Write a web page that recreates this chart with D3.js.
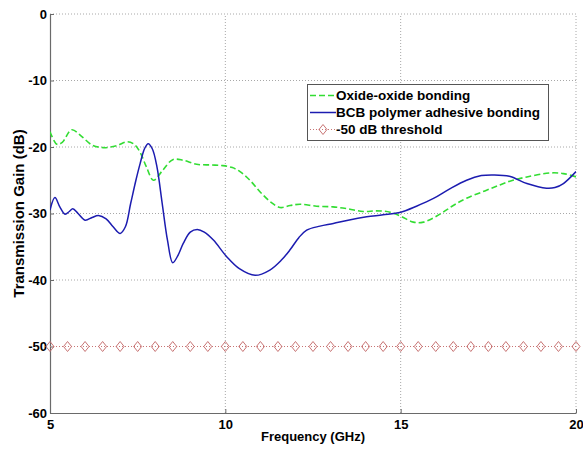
<!DOCTYPE html>
<html>
<head>
<meta charset="utf-8">
<script src="https://cdn.jsdelivr.net/npm/d3@7"></script>
<style>
  html, body { margin: 0; padding: 0; background: #fff; }
  svg { display: block; }
  svg text { font-family: "Liberation Sans", Arial, sans-serif; font-weight: bold; fill: #000; }
</style>
</head>
<body>
<svg id="chart" width="583" height="449"></svg>
<script>
// Transmission gain vs frequency for two bonding methods, with a -50 dB reference line.
const oxideFreq = [5.0, 5.2, 5.35, 5.62, 5.9, 6.2, 6.52, 6.9, 7.2, 7.4, 7.57, 7.75, 7.95, 8.2, 8.5, 8.8, 9.18, 9.6, 9.93, 10.2, 10.42, 10.7, 11.0, 11.3, 11.56, 11.85, 12.13, 12.6, 13.07, 13.5, 13.93, 14.31, 14.7, 15.0, 15.36, 15.65, 16.12, 16.5, 16.88, 17.4, 17.83, 18.2, 18.6, 19.26, 19.64, 20.0];
const oxideGain = [-17.7, -19.6, -19.3, -17.4, -18.4, -19.7, -20.1, -19.8, -19.2, -19.6, -20.8, -23.0, -25.0, -23.6, -21.9, -22.0, -22.6, -22.7, -22.8, -23.1, -23.7, -25.0, -26.8, -28.3, -29.1, -28.8, -28.6, -28.9, -29.0, -29.3, -29.7, -29.6, -29.8, -30.4, -31.3, -31.3, -30.1, -28.8, -27.7, -26.6, -25.7, -25.0, -24.5, -23.9, -24.0, -24.5];

const bcbFreq = [5.0, 5.14, 5.28, 5.43, 5.55, 5.65, 5.8, 6.0, 6.2, 6.38, 6.6, 6.8, 7.0, 7.15, 7.3, 7.45, 7.57, 7.7, 7.8, 7.92, 8.05, 8.2, 8.35, 8.5, 8.65, 8.8, 9.0, 9.2, 9.4, 9.66, 10.04, 10.4, 10.85, 11.27, 11.6, 11.84, 12.1, 12.32, 12.7, 13.08, 13.5, 14.03, 14.5, 15.0, 15.45, 15.95, 16.4, 16.88, 17.3, 17.64, 18.1, 18.6, 19.16, 19.4, 19.64, 20.0];
const bcbGain = [-29.5, -27.6, -29.0, -30.1, -29.7, -29.3, -30.0, -31.0, -30.6, -30.3, -30.8, -32.0, -33.0, -32.0, -28.5, -25.0, -22.5, -20.2, -19.5, -20.3, -23.0, -28.5, -34.0, -37.4, -36.3, -34.5, -32.8, -32.4, -32.8, -34.0, -36.5, -38.3, -39.3, -38.5, -37.0, -35.5, -33.6, -32.5, -31.9, -31.5, -31.0, -30.5, -30.2, -29.8, -28.9, -27.7, -26.3, -25.0, -24.3, -24.2, -24.4, -25.5, -26.2, -26.1, -25.5, -23.7];

const thresholdFreq = [5, 5.5, 6, 6.5, 7, 7.5, 8, 8.5, 9, 9.5, 10, 10.5, 11, 11.5, 12, 12.5, 13, 13.5, 14, 14.5, 15, 15.5, 16, 16.5, 17, 17.5, 18, 18.5, 19, 19.5, 20];
const thresholdGain = [-50, -50, -50, -50, -50, -50, -50, -50, -50, -50, -50, -50, -50, -50, -50, -50, -50, -50, -50, -50, -50, -50, -50, -50, -50, -50, -50, -50, -50, -50, -50];

const xTicks = [5, 10, 15, 20];
const yTicks = [0, -10, -20, -30, -40, -50, -60];
const legendLabels = ["Oxide-oxide bonding", "BCB polymer adhesive bonding", "-50 dB threshold"];

const W = 583, H = 449;
const margin = { top: 14, right: 7, bottom: 36, left: 50 };
const svg = d3.select("#chart");

const x = d3.scaleLinear().domain([5, 20]).range([margin.left, W - margin.right]);
const y = d3.scaleLinear().domain([-60, 0]).range([H - margin.bottom, margin.top]);

const COL_OXIDE = "#33dd33";
const COL_BCB = "#1c1cb0";
const COL_THR = "#c87474";
const AXIS = "#6a6a6a";
const GRID = "#a8a8a8";

// dotted grid
const grid = svg.append("g");
grid.selectAll("line.gx").data(xTicks.slice(1)).join("line")
  .attr("x1", d => x(d)).attr("x2", d => x(d))
  .attr("y1", y(-60)).attr("y2", y(0))
  .attr("stroke", GRID).attr("stroke-width", 1).attr("stroke-dasharray", "1,2");
grid.selectAll("line.gy").data(yTicks.slice(0, -1)).join("line")
  .attr("x1", x(5)).attr("x2", x(20))
  .attr("y1", d => y(d)).attr("y2", d => y(d))
  .attr("stroke", GRID).attr("stroke-width", 1).attr("stroke-dasharray", "1,2");

// axes (plain hyphen-minus in tick labels)
const fmt = d => String(d);
const xAxis = svg.append("g")
  .attr("transform", `translate(0,${y(-60)})`)
  .call(d3.axisBottom(x).tickValues(xTicks).tickFormat(fmt).tickSizeInner(-4).tickSizeOuter(0).tickPadding(7));
const yAxis = svg.append("g")
  .attr("transform", `translate(${x(5)},0)`)
  .call(d3.axisLeft(y).tickValues(yTicks).tickFormat(fmt).tickSizeInner(-4).tickSizeOuter(0).tickPadding(3));
[xAxis, yAxis].forEach(a => {
  a.attr("font-family", null).attr("font-size", null);
  a.select(".domain").attr("stroke", AXIS).attr("stroke-width", 1.2);
  a.selectAll(".tick line").attr("stroke", AXIS);
  a.selectAll(".tick text").attr("fill", "#000").style("font-size", "13px").style("font-weight", "bold");
});

// axis titles
svg.append("text")
  .attr("x", (x(5) + x(20)) / 2).attr("y", 441)
  .attr("text-anchor", "middle")
  .style("font-size", "13px")
  .text("Frequency (GHz)");
svg.append("text")
  .attr("transform", `translate(24,${(y(0) + y(-60)) / 2}) rotate(-90)`)
  .attr("text-anchor", "middle")
  .style("font-size", "15px")
  .text("Transmission Gain (dB)");

svg.append("clipPath").attr("id", "plotclip")
  .append("rect").attr("x", x(5)).attr("y", y(0)).attr("width", x(20) - x(5)).attr("height", y(-60) - y(0));

const line = d3.line().x(d => x(d[0])).y(d => y(d[1])).curve(d3.curveCatmullRom.alpha(0.5));
const plot = svg.append("g").attr("clip-path", "url(#plotclip)");

// threshold line with open diamond markers
const thr = thresholdFreq.map((f, i) => [f, thresholdGain[i]]);
plot.append("path").datum(thr)
  .attr("d", d3.line().x(d => x(d[0])).y(d => y(d[1])))
  .attr("fill", "none").attr("stroke", COL_THR).attr("stroke-width", 1).attr("stroke-dasharray", "1,2");
const diamond = (cx, cy) => `M${cx},${cy - 5}L${cx + 4},${cy}L${cx},${cy + 5}L${cx - 4},${cy}Z`;
svg.append("g").selectAll("path").data(thr).join("path")
  .attr("d", d => diamond(x(d[0]), y(d[1])))
  .attr("fill", "none").attr("stroke", COL_THR).attr("stroke-width", 1);

// oxide-oxide (dashed green)
plot.append("path").datum(oxideFreq.map((f, i) => [f, oxideGain[i]]))
  .attr("d", line)
  .attr("fill", "none").attr("stroke", COL_OXIDE).attr("stroke-width", 1.6).attr("stroke-dasharray", "6,3");

// BCB (solid blue)
plot.append("path").datum(bcbFreq.map((f, i) => [f, bcbGain[i]]))
  .attr("d", line)
  .attr("fill", "none").attr("stroke", COL_BCB).attr("stroke-width", 1.5);

// legend
const lg = svg.append("g");
lg.append("rect").attr("x", 307.5).attr("y", 84.5).attr("width", 241).attr("height", 56)
  .attr("fill", "#fff").attr("stroke", "#555").attr("stroke-width", 1);
const rows = [95, 112, 129];
const styles = [
  { c: COL_OXIDE, dash: "6,3", w: 1.6 },
  { c: COL_BCB, dash: null, w: 1.5 },
  { c: COL_THR, dash: "1,2", w: 1 }
];
legendLabels.forEach((t, i) => {
  const ly = rows[i] + 0.5;
  lg.append("line").attr("x1", 310).attr("x2", 336).attr("y1", ly).attr("y2", ly)
    .attr("stroke", styles[i].c).attr("stroke-width", styles[i].w)
    .attr("stroke-dasharray", styles[i].dash);
  if (i === 2) {
    lg.append("path").attr("d", diamond(323, ly)).attr("fill", "none").attr("stroke", COL_THR);
  }
  lg.append("text").attr("x", 336).attr("y", rows[i] + 5)
    .style("font-size", "13.5px").text(t);
});
</script>
</body>
</html>
